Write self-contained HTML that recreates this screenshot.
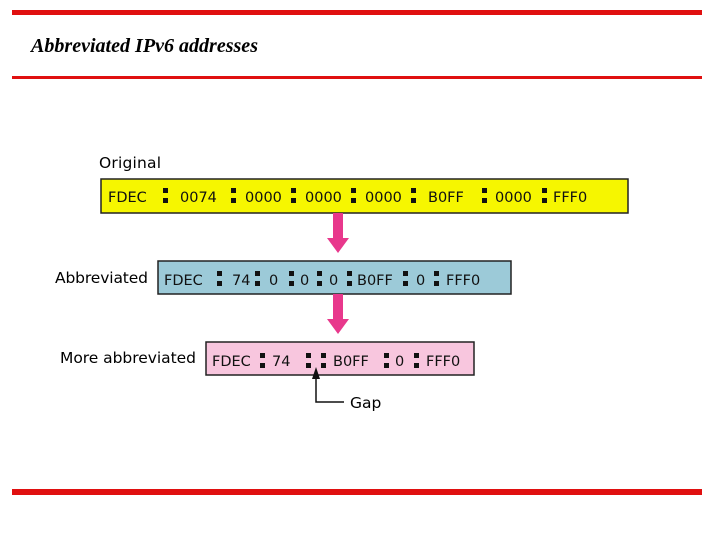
<!DOCTYPE html>
<html><head><style>body{margin:0;background:#fff}svg{display:block}</style></head><body>
<svg width="720" height="540" xmlns="http://www.w3.org/2000/svg" font-family="'DejaVu Sans','Liberation Sans',sans-serif">
<rect x="12" y="10" width="690" height="5" fill="#e01010"/>
<rect x="12" y="76" width="690" height="3" fill="#e01010"/>
<rect x="12" y="489" width="690" height="6" fill="#e01010"/>
<text x="31" y="52" font-family="'Liberation Serif',serif" font-style="italic" font-weight="bold" font-size="19.5" textLength="227" lengthAdjust="spacingAndGlyphs">Abbreviated IPv6 addresses</text>

<text x="99" y="168" font-size="15.5" textLength="62">Original</text>
<text x="55" y="283" font-size="15.5" textLength="93">Abbreviated</text>
<text x="60" y="363" font-size="15.5" textLength="136">More abbreviated</text>

<rect x="101" y="179" width="527" height="34" fill="#f6f600" stroke="#222" stroke-width="1.5"/>
<rect x="158" y="261" width="353" height="33" fill="#9ccad8" stroke="#222" stroke-width="1.5"/>
<rect x="206" y="342" width="268" height="33" fill="#f8c6de" stroke="#222" stroke-width="1.5"/>

<g fill="#e8388c">
<rect x="333" y="213" width="10" height="26"/><polygon points="327,238 349,238 338,253"/>
<rect x="333" y="294" width="10" height="26"/><polygon points="327,319 349,319 338,334"/>
</g>

<g font-size="14.5" fill="#111">
<text x="108" y="202">FDEC</text><text x="180" y="202">0074</text><text x="245" y="202">0000</text><text x="305" y="202">0000</text><text x="365" y="202">0000</text><text x="428" y="202">B0FF</text><text x="495" y="202">0000</text><text x="553" y="202">FFF0</text>
<text x="164" y="285">FDEC</text><text x="232" y="285">74</text><text x="269" y="285">0</text><text x="300" y="285">0</text><text x="329" y="285">0</text><text x="357" y="285">B0FF</text><text x="416" y="285">0</text><text x="446" y="285">FFF0</text>
<text x="212" y="366">FDEC</text><text x="272" y="366">74</text><text x="333" y="366">B0FF</text><text x="395" y="366">0</text><text x="426" y="366">FFF0</text>
</g>
<g fill="#111">
<rect x="163" y="188" width="5" height="5"/><rect x="163" y="198" width="5" height="5"/>
<rect x="231" y="188" width="5" height="5"/><rect x="231" y="198" width="5" height="5"/>
<rect x="291" y="188" width="5" height="5"/><rect x="291" y="198" width="5" height="5"/>
<rect x="351" y="188" width="5" height="5"/><rect x="351" y="198" width="5" height="5"/>
<rect x="411" y="188" width="5" height="5"/><rect x="411" y="198" width="5" height="5"/>
<rect x="482" y="188" width="5" height="5"/><rect x="482" y="198" width="5" height="5"/>
<rect x="542" y="188" width="5" height="5"/><rect x="542" y="198" width="5" height="5"/>
<rect x="217" y="271" width="5" height="5"/><rect x="217" y="281" width="5" height="5"/>
<rect x="255" y="271" width="5" height="5"/><rect x="255" y="281" width="5" height="5"/>
<rect x="289" y="271" width="5" height="5"/><rect x="289" y="281" width="5" height="5"/>
<rect x="317" y="271" width="5" height="5"/><rect x="317" y="281" width="5" height="5"/>
<rect x="347" y="271" width="5" height="5"/><rect x="347" y="281" width="5" height="5"/>
<rect x="403" y="271" width="5" height="5"/><rect x="403" y="281" width="5" height="5"/>
<rect x="434" y="271" width="5" height="5"/><rect x="434" y="281" width="5" height="5"/>
<rect x="260" y="353" width="5" height="5"/><rect x="260" y="363" width="5" height="5"/>
<rect x="306" y="353" width="5" height="5"/><rect x="306" y="363" width="5" height="5"/>
<rect x="321" y="353" width="5" height="5"/><rect x="321" y="363" width="5" height="5"/>
<rect x="384" y="353" width="5" height="5"/><rect x="384" y="363" width="5" height="5"/>
<rect x="414" y="353" width="5" height="5"/><rect x="414" y="363" width="5" height="5"/>
</g>
<polyline points="316,376 316,402 344,402" fill="none" stroke="#111" stroke-width="1.5"/>
<polygon points="316,367 312,379 320,379" fill="#111"/>
<text x="350" y="408" font-size="15.5">Gap</text>
</svg>
</body></html>
